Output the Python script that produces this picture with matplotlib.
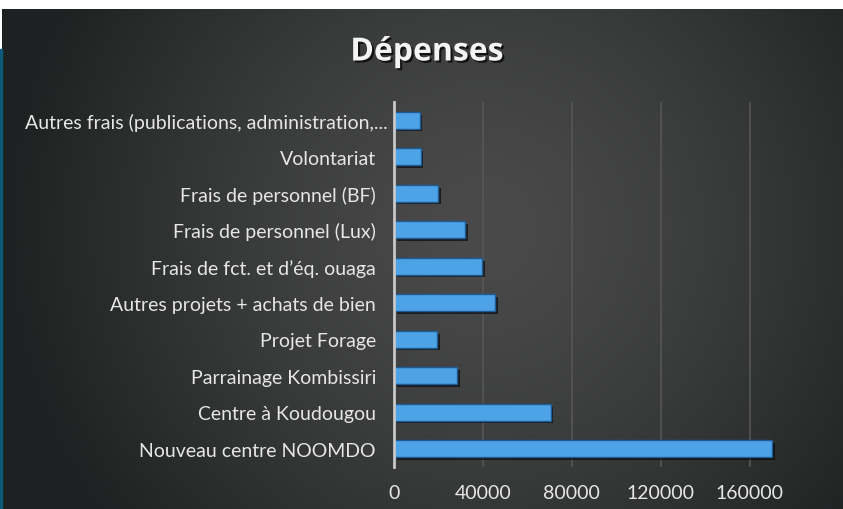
import numpy as np
import matplotlib
matplotlib.use("Agg")
import matplotlib.pyplot as plt
import matplotlib.patheffects as pe
import matplotlib.transforms as mtrans
from matplotlib.patches import Rectangle

# categories from bottom to top
categories = [
    "Nouveau centre NOOMDO",
    "Centre à Koudougou",
    "Parrainage Kombissiri",
    "Projet Forage",
    "Autres projets + achats de bien",
    "Frais de fct. et d\u2019éq. ouaga",
    "Frais de personnel (Lux)",
    "Frais de personnel (BF)",
    "Volontariat",
    "Autres frais (publications, administration,...",
]
depenses = [170000, 70500, 28500, 19500, 45500, 39500, 32000, 20000, 12000, 11500]
xticks = [0, 40000, 80000, 120000, 160000]

W, H = 843, 510
fig = plt.figure(figsize=(W / 100, H / 100), dpi=100, facecolor="white")

# radial dark background of the slide
bg = fig.add_axes([0, 0, 1, 1])
bg.set_xlim(0, W)
bg.set_ylim(H, 0)
bg.axis("off")
yy, xx = np.mgrid[0:500, 0:841]
r = np.sqrt(((xx - 480) / 480.0) ** 2 + ((yy - 220) / 480.0) ** 2)
t = np.clip(r, 0, 1) ** 1.4
center = np.array([74, 74, 74]) / 255.0
edge = np.array([30, 33, 33]) / 255.0
img = center[None, None, :] * (1 - t[..., None]) + edge[None, None, :] * t[..., None]
bg.imshow(img, extent=[2, 843, 510, 10], aspect="auto", zorder=0)
bg.add_patch(Rectangle((0, 50), 2, 460, color="#0c5a7a", zorder=1))

fig.text(427 / W, 1 - 53 / H, "Dépenses", ha="center", va="center",
         fontsize=23, fontweight="bold", color="#f4f4f4", family="Open Sans",
         path_effects=[pe.withSimplePatchShadow(offset=(1.5, -1.5), shadow_rgbFace="black", alpha=0.7)])

ax = fig.add_axes([394 / W, 1 - 468 / H, 400 / W, 365 / H])
ax.patch.set_alpha(0)
y = np.arange(len(categories))
bars = ax.barh(y, depenses, height=0.46, color="#4ea3e6", edgecolor="#1f5c94", linewidth=1.0, zorder=3)
for b in bars:
    b.set_path_effects([pe.SimplePatchShadow(offset=(2, -2), shadow_rgbFace="black", alpha=0.6), pe.Normal()])

ax.set_xlim(0, 180000)
ax.set_ylim(-0.5, len(categories) - 0.5)
ax.set_xticks(xticks)
ax.set_xticklabels([str(v) for v in xticks])
ax.set_yticks(y)
ax.set_yticklabels(categories)
ax.tick_params(length=0, colors="#e6e6e6", labelsize=14, pad=12)
ax.tick_params(axis="y", pad=13)
for lab in ax.get_xticklabels() + ax.get_yticklabels():
    lab.set_family("Lato")
# the truncated top label sits closer to the axis
last = ax.get_yticklabels()[-1]
last.set_transform(last.get_transform() + mtrans.ScaledTranslation(12 / 100, 0, fig.dpi_scale_trans))

for v in xticks[1:]:
    ax.axvline(v, color="#575757", linewidth=1.4, alpha=0.8, zorder=1)

for s in ["top", "right", "bottom"]:
    ax.spines[s].set_visible(False)
ax.spines["left"].set_color("#c8c8c8")
ax.spines["left"].set_linewidth(2)
ax.spines["left"].set_zorder(4)

fig.savefig("out.png", dpi=100, facecolor="white")
